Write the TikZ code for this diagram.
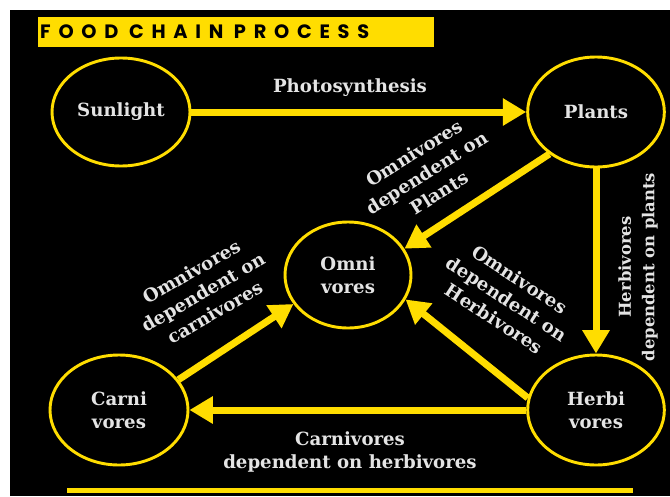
\documentclass[tikz,border=0pt]{standalone}
\usepackage{fontspec}
\setmainfont{DejaVu Serif}
\newfontfamily\titlefont[LetterSpace=40]{Poppins}
\usetikzlibrary{arrows.meta,positioning,shapes.geometric}
\definecolor{chainyellow}{RGB}{255,221,0}
\definecolor{chaintext}{RGB}{228,228,228}
\begin{document}
\begin{tikzpicture}[every node/.style={font=\bfseries\fontsize{15.5}{20}\selectfont,text=chaintext},stage/.style={ellipse,draw=chainyellow,line width=2.5pt,minimum width=4.1cm,minimum height=3.3cm,align=center,inner sep=1pt},titlebox/.style={rectangle,fill=chainyellow,text=black,minimum height=0.9cm,text width=11.76cm,inner xsep=0.06cm,align=left,font=\titlefont\bfseries\fontsize{16.5}{20}\selectfont},flowtext/.style={align=center},feed/.style={-{Triangle[length=0.7cm,width=0.78cm]},draw=chainyellow,line width=0.21cm}]
\useasboundingbox(0,0)rectangle(20.1,14.88);
\fill[white](0,0)rectangle(20.1,14.88);\fill[black](0.3,0)rectangle(20.1,14.58);
\node[titlebox,anchor=west](title)at(1.14,13.92){FOOD\hspace{0.55em}CHAIN\hspace{0.55em}PROCESS};
\node[stage,minimum width=4.14cm,minimum height=3.24cm](sunlight)at(3.63,11.52){Sunlight};
\node[stage](plants)at(17.88,11.52){Plants};
\node[stage,minimum width=3.78cm,minimum height=3.18cm](omni)at(10.44,6.63){Omni\\vores};
\node[stage,minimum width=4.14cm](carni)at(3.57,2.58){Carni\\vores};
\node[stage](herbi)at(17.88,2.58){Herbi\\vores};
\draw[feed](sunlight)--(plants);\draw[feed](plants.222)--(omni.25);\draw[feed](plants)--(herbi);\draw[feed](herbi.170)--(omni.-23);\draw[feed](carni.27)--(omni.208);\draw[feed](herbi)--(carni);
\node[flowtext](photo)at(10.5,12.24){Photosynthesis};
\node[flowtext,rotate=32](onplants)at(12.8,9.7){Omnivores\\dependent on\\Plants};
\node[flowtext,rotate=90,font=\bfseries\fontsize{14}{20}\selectfont](onplantsh)at(19.14,6.87){Herbivores\\dependent on plants};
\node[flowtext,rotate=-33](onherbi)at(15.21,5.91){Omnivores\\dependent on\\Herbivores};
\node[flowtext,rotate=30](oncarni)at(6.09,6.12){Omnivores\\dependent on\\carnivores};
\node[flowtext](carnieat)at(10.5,1.32){Carnivores\\dependent on herbivores};
\coordinate(baseleft)at(2.01,0.18);\coordinate(baseright)at(18.99,0.18);
\draw[chainyellow,line width=0.15cm](baseleft)--(baseright);
\end{tikzpicture}
\end{document}
